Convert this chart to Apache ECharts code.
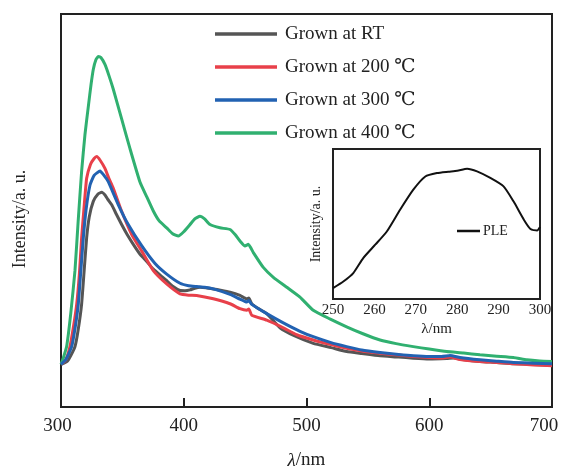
<!DOCTYPE html>
<html>
<head>
<meta charset="utf-8">
<script src="https://cdn.jsdelivr.net/npm/echarts@6/dist/echarts.min.js"></script>
<style>html,body{margin:0;padding:0;background:#fff}#c{width:563px;height:475px}</style>
</head>
<body>
<div id="c"></div>
<script>
// ---- data ----
const seriesNames = ['Grown at RT', 'Grown at 200 ℃', 'Grown at 300 ℃', 'Grown at 400 ℃'];
const xTicksMain = [300, 400, 500, 600, 700];
const xTicksInset = [250, 260, 270, 280, 290, 300];

const wlRT = [300,305,308,311.4,314,316.8,319,320.9,323,326.3,330,333.2,336,338,341.3,345,349.4,354,358.9,364.4,368.4,375.2,381,386.1,391,397,401,405.1,409,413.2,418,424.1,430,437.7,445.8,451.3,453,455.4,460,467.6,478.4,490,505.5,520,532.7,545,559.9,575,587,600,614.2,620,627,641.3,655,668.5,685,700];
const intRT = [43,46,52,61,78,104,140,171,192,207.7,215,217,214,210,204.3,195,184.3,174,164.3,154.3,149,139.3,133,127.7,122,117.7,117.5,118.3,120,121,120.5,119.3,118,116,112.7,109.3,110,104.3,100,94.3,80,72,64.3,60,56,54,51.7,50.5,49.3,48.5,49,49.5,48,46,45,43.7,43,42];

const wl200 = [300,304,307.3,310,312.8,315,316.8,319,320.9,324,327,329.1,332,335.8,339,342.6,349.4,357.6,365.7,375.2,386.1,397,404,410.5,424.1,437.7,445.8,451.3,453,455.4,467.6,481.1,492,505.5,520,532.7,545,559.9,575,587,600,610,617,625,641.3,655,668.5,685,700];
const int200 = [43,48,61,80,104,135,171,205,231,245,251,253,249,241,231,221,197.7,174.3,157.7,137.7,124.3,114.3,113,112.7,109.3,104.3,99.3,97.7,99,92.7,87.7,80,73,67.7,63,59.3,56.5,54.3,52.5,51,50,49.5,50.5,48,46,45,43.7,42.5,41.7];

const wl300 = [300,304,308.7,311.5,314.1,316,318.2,320.5,323.6,327,331.8,335,338.5,346.7,354.8,365.7,376.6,386.1,397,404,410.5,417,424.1,437.7,445.8,451.3,453,455.4,467.6,481.1,494.7,505.5,520,532.7,545,559.9,575,587,600,610,617,625,641.3,655,668.5,685,700];
const int300 = [43,48,61,80,104,135,171,200,224,234,238.3,234,227.7,204.3,184.3,163,145,134.3,125,122.5,121.7,121,119.3,113.7,109,106,107.5,103.7,94.3,85,76.5,71,65,61,57.5,55,53,51.7,51,51,52,50,47.7,46.3,45,44.3,43.7];

const wl400 = [300,302,304.6,308,311.4,314,316.8,319.5,322.3,324.5,326.3,328.5,330.4,332.5,335.8,339,342.6,349.4,356.2,364.4,370,375.2,380,386.1,391,395.6,400,405.1,409,413.2,417,421.4,429.5,437.7,442,445.8,449.9,452.6,456.7,464.8,473,483.9,494.7,505.5,519,532.7,546,559.9,573,587,600,614.2,628,641.3,655,668.5,679.4,690,700];
const int400 = [43,50,61,95,138,188,238,275,304,326,341,351,354,353,346,335,321,291,261,227,212,198,188,181,175,172.7,177,184.3,190,192.7,190,184.3,181,179.3,174,167.7,162.7,164.3,156,141,131,121,111,97.7,89,81,74,67.7,64,61,58.5,56,54.5,52.7,51.3,50,47.7,46.5,46];

const wlPLE = [250,252.5,254.9,257.3,260.2,263,266.2,269.4,272.3,275.1,277.9,280,282.4,284.8,288,291.2,293.6,296.1,297.7,299.3,300];
const intPLE = [7.3,11.7,17.3,27.3,36.2,45,59.5,72.9,81.7,84,84.9,85.5,86.9,85.1,80.7,75.1,65.1,52.9,46.7,45.7,48];

// ---- build ----
const pair = (xs, ys) => xs.map((x, i) => [x, ys[i]]);
const colors = ['#555555', '#e8404a', '#2262b2', '#30b070'];
const mainData = [pair(wlRT, intRT), pair(wl200, int200), pair(wl300, int300), pair(wl400, int400)];
const SERIF = '"Liberation Serif", "DejaVu Serif", serif';
const TXT = '#222';

const chart = echarts.init(document.getElementById('c'), null, {renderer: 'canvas'});

const series = mainData.map((d, i) => ({
  name: seriesNames[i], type: 'line', xAxisIndex: 0, yAxisIndex: 0,
  data: d, showSymbol: false, smooth: 0.15, z: 3 + (i === 2 ? 1 : 0),
  lineStyle: {color: colors[i], width: 3, join: 'round'}, itemStyle: {color: colors[i]}
}));
series.push({
  name: 'PLE', type: 'line', xAxisIndex: 1, yAxisIndex: 1,
  data: pair(wlPLE, intPLE), showSymbol: false, smooth: 0.2,
  lineStyle: {color: '#111', width: 2, join: 'round'}, itemStyle: {color: '#111'}, z: 10
});

chart.setOption({
  animation: false,
  backgroundColor: '#fff',
  grid: [
    {left: 61, top: 14, width: 491, height: 397, show: true, borderColor: TXT, borderWidth: 2, backgroundColor: 'transparent', z: 2},
    {left: 333, top: 149, width: 207, height: 150, show: true, borderColor: TXT, borderWidth: 2, backgroundColor: '#fff', z: 6}
  ],
  xAxis: [
    {
      gridIndex: 0, type: 'value', min: 300, max: 700, interval: 100,
      axisLine: {show: true, lineStyle: {color: TXT, width: 2}},
      axisTick: {show: true, inside: true, length: 9, lineStyle: {color: TXT, width: 2}},
      splitLine: {show: false},
      axisLabel: {
        margin: 10, color: TXT, fontFamily: SERIF, fontSize: 19,
        formatter: v => v === 700 ? '{r|700}' : (v === 300 ? '{l|300}' : String(v)),
        rich: {
          r: {fontFamily: SERIF, fontSize: 19, color: TXT, padding: [0, 16, 0, 0]},
          l: {fontFamily: SERIF, fontSize: 19, color: TXT, padding: [0, 7, 0, 0]}
        }
      },
      name: '{i|λ}/nm', nameLocation: 'middle', nameGap: 44,
      nameTextStyle: {color: TXT, fontFamily: SERIF, fontSize: 19,
        rich: {i: {fontStyle: 'italic', fontFamily: SERIF, fontSize: 19, color: TXT}}}
    },
    {
      gridIndex: 1, type: 'value', min: 250, max: 300, interval: 10,
      axisLine: {show: true, lineStyle: {color: TXT, width: 2}},
      axisTick: {show: true, inside: true, length: 7, lineStyle: {color: TXT, width: 2}},
      splitLine: {show: false},
      axisLabel: {margin: 4, color: TXT, fontFamily: SERIF, fontSize: 15},
      name: '{i|λ}/nm', nameLocation: 'middle', nameGap: 23,
      nameTextStyle: {color: TXT, fontFamily: SERIF, fontSize: 15,
        rich: {i: {fontFamily: SERIF, fontSize: 15, color: TXT}}}
    }
  ],
  yAxis: [
    {gridIndex: 0, type: 'value', min: 0, max: 397,
      axisLine: {show: true, lineStyle: {color: TXT, width: 2}},
      axisTick: {show: false}, axisLabel: {show: false}, splitLine: {show: false}},
    {gridIndex: 1, type: 'value', min: 0, max: 100,
      axisLine: {show: true, lineStyle: {color: TXT, width: 2}},
      axisTick: {show: false}, axisLabel: {show: false}, splitLine: {show: false}}
  ],
  legend: [
    {
      data: seriesNames, orient: 'vertical', left: 215, top: 23, itemGap: 11, padding: 0, z: 20,
      itemWidth: 62, itemHeight: 3.5, icon: 'rect',
      textStyle: {color: TXT, fontFamily: SERIF, fontSize: 19, lineHeight: 22, padding: [0, 0, 0, 3]}
    },
    {
      data: ['PLE'], orient: 'vertical', left: 457, top: 223, padding: 0, z: 20,
      itemWidth: 23, itemHeight: 2.5, icon: 'rect',
      textStyle: {color: TXT, fontFamily: SERIF, fontSize: 14, lineHeight: 16, padding: [0, 0, 0, -2]}
    }
  ],
  graphic: [
    {type: 'text', x: 20, y: 219, rotation: Math.PI / 2,
      style: {text: 'Intensity/a. u.', fill: TXT, font: '18px ' + SERIF, align: 'center', verticalAlign: 'middle'}},
    {type: 'text', x: 316, y: 224, rotation: Math.PI / 2, z: 20,
      style: {text: 'Intensity/a. u.', fill: TXT, font: '14px ' + SERIF, align: 'center', verticalAlign: 'middle'}}
  ],
  series: series
});
</script>
</body>
</html>
